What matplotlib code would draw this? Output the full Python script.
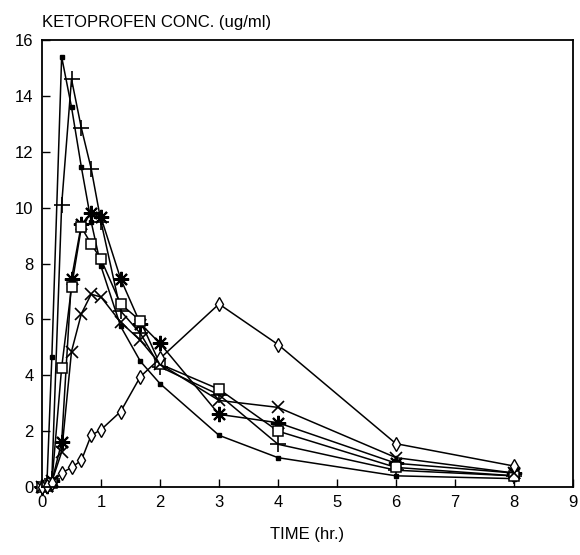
import matplotlib
matplotlib.use("Agg")
import matplotlib.pyplot as plt

plt.rcParams['font.family'] = ['Liberation Sans', 'DejaVu Sans']

# sampling times (hr)
time_hr = [0, 0.083, 0.167, 0.333, 0.5, 0.667, 0.833, 1.0, 1.333, 1.667, 2, 3, 4, 6, 8]

# concentrations (ug/ml) per subject / formulation
conc_dot     = [0, 0.10, 4.66, 15.40, 13.60, 11.45, 9.50, 7.90, 5.75, 4.50, 3.70, 1.85, 1.05, 0.40, 0.30]
conc_plus    = [0, 0.05, 0.30, 10.10, 14.60, 12.85, 11.40, 9.50, 6.30, 5.50, 4.30, 3.30, 1.53, 0.60, 0.40]
conc_star    = [0, 0.05, 0.20, 1.60, 7.45, 9.40, 9.80, 9.65, 7.45, 5.85, 5.14, 2.60, 2.30, 0.85, 0.50]
conc_square  = [0, 0.05, 0.15, 4.27, 7.15, 9.30, 8.70, 8.15, 6.55, 5.95, 4.40, 3.50, 2.00, 0.70, 0.40]
conc_cross   = [0, 0.05, 0.20, 1.25, 4.85, 6.20, 6.90, 6.80, 5.90, 5.25, 4.40, 3.10, 2.85, 1.05, 0.50]
conc_diamond = [0, 0.05, 0.15, 0.50, 0.70, 0.95, 1.85, 2.05, 2.70, 3.95, 4.60, 6.55, 5.10, 1.55, 0.75]

x_ticks = [0, 1, 2, 3, 4, 5, 6, 7, 8, 9]
y_ticks = [0, 2, 4, 6, 8, 10, 12, 14, 16]

fig = plt.figure(figsize=(5.8, 5.55), dpi=100)
ax = fig.add_axes([42/580, 1 - 487/555, (573 - 42)/580, (487 - 40)/555])

common = dict(color='black', linewidth=1.1, clip_on=False)
ax.plot(time_hr, conc_dot, marker='s', markersize=3, markerfacecolor='black',
        markeredgecolor='black', **common)
ax.plot(time_hr, conc_plus, marker='+', markersize=11, markeredgewidth=1.2, **common)
ax.plot(time_hr, conc_star, marker=(8, 2, 0), markersize=11, markeredgewidth=1.5, **common)
ax.plot(time_hr, conc_square, marker='s', markersize=6.5, markerfacecolor='white',
        markeredgecolor='black', markeredgewidth=1.1, **common)
ax.plot(time_hr, conc_cross, marker='x', markersize=8, markeredgewidth=1.2, **common)
ax.plot(time_hr, conc_diamond, marker='d', markersize=7.5, markerfacecolor='white',
        markeredgecolor='black', markeredgewidth=1.0, **common)

ax.set_xlim(0, 9)
ax.set_ylim(0, 16)
ax.set_xticks(x_ticks)
ax.set_yticks(y_ticks)
ax.tick_params(direction='in', length=5.5, width=1.0, labelsize=12, pad=6, colors='black')
for s in ax.spines.values():
    s.set_linewidth(1.3)
    s.set_color('black')

ax.set_xlabel('TIME (hr.)', fontsize=12, labelpad=12)
fig.text(42/580, 1 - 23/555, 'KETOPROFEN CONC. (ug/ml)', fontsize=12,
         ha='left', va='center')

fig.savefig('out.png', dpi=100)
